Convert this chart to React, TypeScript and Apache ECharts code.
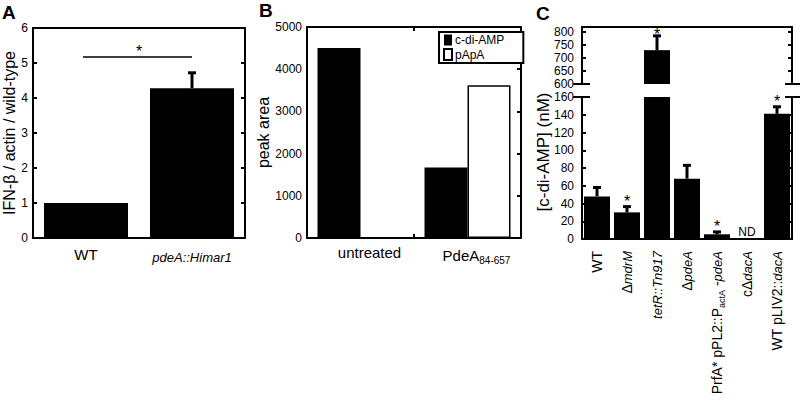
import React, { useEffect, useRef } from "react";
import * as echarts from "echarts";

// ---------- Panel A ----------
const aCategories = ["WT", "pdeA::Himar1"];
const aLabels = ["WT", "{i|pdeA::Himar1}"];
const aValues = [1.0, 4.28];
const aErrorTops = [null, 4.72];
const aSigLevel = 5.17;
const aSigMark = "*";
const aTicks = { min: 0, max: 6, interval: 1 };

// ---------- Panel B ----------
const bCategories = ["untreated", "PdeA84-657"];
const bLabels = ["untreated", "{n|PdeA}{s|84-657}"];
const bCdiAMP = [4500, 1670];
const bPApA = [0, 3620];
const bSeriesNames = ["c-di-AMP", "pApA"];
const bTicks = { min: 0, max: 5000, interval: 1000 };

// ---------- Panel C ----------
const cCategories = [
  "WT",
  "ΔmdrM",
  "tetR::Tn917",
  "ΔpdeA",
  "PrfA* pPL2::PactA -pdeA",
  "cΔdacA",
  "WT pLIV2::dacA",
];
const cLabels = [
  "{n|WT}",
  "{n|Δ}{i|mdrM}",
  "{i|tetR::Tn917}",
  "{n|Δ}{i|pdeA}",
  "{n|PrfA* pPL2::P}{s|actA}{n| -}{i|pdeA}",
  "{n|cΔ}{i|dacA}",
  "{n|WT pLIV2::}{i|dacA}",
];
const cValues: (number | null)[] = [48, 30, 730, 68, 5.3, null, 141];
const cErrorTops: (number | null)[] = [58, 36.5, 785, 83, 8, null, 149];
const cMarks = ["", "*", "*", "", "*", "ND", "*"];
const cLowerTicks = { min: 0, max: 160, interval: 20 };
const cUpperTicks = { min: 600, max: 819, interval: 50 };

const FONT = "'Liberation Sans', Arial, Helvetica, sans-serif";
const BLACK = "#000";

const renderError = (_p: any, api: any) => {
  const idx = api.value(0);
  const p0 = api.coord([idx, api.value(1)]);
  const p1 = api.coord([idx, api.value(2)]);
  return {
    type: "group",
    children: [
      { type: "line", shape: { x1: p0[0], y1: p0[1], x2: p1[0], y2: p1[1] }, style: { stroke: BLACK, lineWidth: 3 } },
      { type: "line", shape: { x1: p1[0] - 4, y1: p1[1], x2: p1[0] + 4, y2: p1[1] }, style: { stroke: BLACK, lineWidth: 3 } },
    ],
  };
};

const makeRenderMark = (clampToTop: boolean) => (params: any, api: any) => {
  const idx = api.value(0);
  const mark = cMarks[idx];
  const p = api.coord([idx, api.value(1)]);
  const isND = mark === "ND";
  const top = params.coordSys ? params.coordSys.y : 0;
  let y = isND ? p[1] - 1 : p[1] - 5;
  if (clampToTop && !isND) y = Math.max(y, top + 7);
  return {
    type: "text",
    x: p[0],
    y,
    style: {
      text: mark,
      fontSize: isND ? 12 : 16,
      fontFamily: FONT,
      fill: BLACK,
      align: "center",
      verticalAlign: isND ? "bottom" : "middle",
    },
  };
};

const renderSig = (_p: any, api: any) => {
  const a = api.coord([api.value(0), api.value(2)]);
  const b = api.coord([api.value(1), api.value(2)]);
  return {
    type: "group",
    children: [
      { type: "line", shape: { x1: a[0] - 3, y1: a[1], x2: b[0], y2: b[1] }, style: { stroke: BLACK, lineWidth: 1.5 } },
      {
        type: "text",
        x: (a[0] + b[0]) / 2,
        y: a[1] - 6,
        style: { text: aSigMark, fontSize: 16, fontFamily: FONT, fill: BLACK, align: "center", verticalAlign: "middle" },
      },
    ],
  };
};

const frameLine = { show: true, onZero: false, lineStyle: { color: BLACK, width: 2 } };
const inTick = { show: true, inside: true, length: 4, lineStyle: { color: BLACK, width: 2 } };
const tickLabel = (margin: number) => ({
  color: BLACK,
  fontSize: 12,
  fontFamily: FONT,
  margin,
  formatter: (v: number) => String(v),
});

export default function App() {
  const ref = useRef<HTMLDivElement>(null);

  useEffect(() => {
    if (!ref.current) return;
    const chart = echarts.init(ref.current, undefined, { renderer: "svg" });

    const errA = aErrorTops
      .map((e, i) => (e == null ? null : [i, aValues[i], e]))
      .filter((d) => d) as number[][];

    const cTop = (i: number) => cErrorTops[i] ?? cValues[i] ?? 0;
    const errCUpper: number[][] = [];
    const errCLower: number[][] = [];
    cErrorTops.forEach((e, i) => {
      if (e == null || cValues[i] == null) return;
      (e > cLowerTicks.max ? errCUpper : errCLower).push([i, cValues[i] as number, e]);
    });
    const markUpper: number[][] = [];
    const markLower: number[][] = [];
    cMarks.forEach((m, i) => {
      if (!m) return;
      (cTop(i) > cLowerTicks.max ? markUpper : markLower).push([i, cTop(i)]);
    });

    const richC = {
      n: { fontSize: 14, fontFamily: FONT, color: BLACK, lineHeight: 18 },
      i: { fontSize: 13, fontFamily: FONT, color: BLACK, fontStyle: "italic", lineHeight: 18 },
      s: { fontSize: 9, fontFamily: FONT, color: BLACK, lineHeight: 9, verticalAlign: "bottom" },
    };
    const richAB = {
      n: { fontSize: 15, fontFamily: FONT, color: BLACK, lineHeight: 20 },
      i: { fontSize: 13, fontFamily: FONT, color: BLACK, fontStyle: "italic", lineHeight: 20 },
      s: { fontSize: 10, fontFamily: FONT, color: BLACK, lineHeight: 10, verticalAlign: "bottom" },
    };

    chart.setOption({
      animation: false,
      backgroundColor: "#fff",
      textStyle: { fontFamily: FONT },
      grid: [
        { left: 33, top: 28, width: 212, height: 210 },
        { left: 307, top: 27, width: 214, height: 211 },
        { left: 582, top: 27, width: 210, height: 57 },
        { left: 582, top: 97, width: 210, height: 142 },
      ],
      legend: {
        data: bSeriesNames,
        orient: "vertical",
        left: 439,
        top: 32,
        itemWidth: 8,
        itemHeight: 11,
        itemGap: 2,
        padding: [2, 19, 2, 4],
        borderColor: BLACK,
        borderWidth: 2,
        backgroundColor: "#fff",
        icon: "rect",
        textStyle: { color: BLACK, fontSize: 12, fontFamily: FONT, padding: [0, 0, 0, -2] },
      },
      xAxis: [
        {
          type: "category", gridIndex: 0, data: aCategories, position: "bottom",
          axisLine: frameLine, axisTick: { show: false },
          axisLabel: { interval: 0, margin: 9, formatter: (_v: string, i: number) => aLabels[i], rich: richAB, fontSize: 15, fontFamily: FONT, color: BLACK },
        },
        { type: "category", gridIndex: 0, data: aCategories, position: "top", axisLine: frameLine, axisTick: { show: false }, axisLabel: { show: false } },
        {
          type: "category", gridIndex: 1, data: bCategories, position: "bottom",
          axisLine: frameLine, axisTick: inTick,
          axisLabel: { interval: 0, margin: 7, padding: [0, 0, 0, 18], formatter: (_v: string, i: number) => bLabels[i], rich: richAB, fontSize: 15, fontFamily: FONT, color: BLACK },
        },
        { type: "category", gridIndex: 1, data: bCategories, position: "top", axisLine: frameLine, axisTick: inTick, axisLabel: { show: false } },
        { type: "category", gridIndex: 2, data: cCategories, position: "top", axisLine: frameLine, axisTick: { show: false }, axisLabel: { show: false } },
        {
          type: "category", gridIndex: 3, data: cCategories, position: "bottom",
          axisLine: frameLine, axisTick: { show: false },
          axisLabel: { interval: 0, rotate: 90, margin: 12, formatter: (_v: string, i: number) => cLabels[i], rich: richC, fontSize: 14, fontFamily: FONT, color: BLACK },
        },
      ],
      yAxis: [
        {
          type: "value", gridIndex: 0, position: "left", ...aTicks,
          axisLine: frameLine, axisTick: inTick, splitLine: { show: false }, axisLabel: tickLabel(5),
          name: "IFN-β / actin / wild-type", nameLocation: "middle", nameGap: 16,
          nameTextStyle: { fontSize: 16, color: BLACK, fontFamily: FONT },
        },
        { type: "value", gridIndex: 0, position: "right", ...aTicks, axisLine: frameLine, axisTick: inTick, splitLine: { show: false }, axisLabel: { show: false } },
        {
          type: "value", gridIndex: 1, position: "left", ...bTicks,
          axisLine: frameLine, axisTick: { show: false }, splitLine: { show: false }, axisLabel: tickLabel(5),
          name: "peak area", nameLocation: "middle", nameGap: 33,
          nameTextStyle: { fontSize: 16, color: BLACK, fontFamily: FONT },
        },
        { type: "value", gridIndex: 1, position: "right", ...bTicks, axisLine: frameLine, axisTick: inTick, splitLine: { show: false }, axisLabel: { show: false } },
        {
          type: "value", gridIndex: 2, position: "left", ...cUpperTicks,
          axisLine: frameLine, axisTick: inTick, splitLine: { show: false }, axisLabel: { ...tickLabel(8), showMaxLabel: false },
        },
        { type: "value", gridIndex: 2, position: "right", ...cUpperTicks, axisLine: frameLine, axisTick: inTick, splitLine: { show: false }, axisLabel: { show: false } },
        {
          type: "value", gridIndex: 3, position: "left", ...cLowerTicks,
          axisLine: frameLine, axisTick: inTick, splitLine: { show: false }, axisLabel: tickLabel(8),
        },
        { type: "value", gridIndex: 3, position: "right", ...cLowerTicks, axisLine: frameLine, axisTick: inTick, splitLine: { show: false }, axisLabel: { show: false } },
      ],
      series: [
        { type: "bar", xAxisIndex: 0, yAxisIndex: 0, data: aValues, barWidth: 84, itemStyle: { color: BLACK } },
        { type: "custom", xAxisIndex: 0, yAxisIndex: 0, data: errA, renderItem: renderError, encode: { x: 0, y: [1, 2] }, z: 5 },
        { type: "custom", xAxisIndex: 0, yAxisIndex: 0, data: [[0, 1, aSigLevel]], renderItem: renderSig, encode: { x: [0, 1], y: 2 }, clip: false, z: 5 },

        { type: "bar", name: bSeriesNames[0], xAxisIndex: 2, yAxisIndex: 2, data: bCdiAMP, barWidth: 43, barGap: "0%", itemStyle: { color: BLACK } },
        { type: "bar", name: bSeriesNames[1], xAxisIndex: 2, yAxisIndex: 2, data: bPApA, barWidth: 43, barGap: "0%", itemStyle: { color: "#fff", borderColor: BLACK, borderWidth: 1.5 } },

        { type: "bar", xAxisIndex: 4, yAxisIndex: 4, data: cValues.map((v) => (v != null && v > cLowerTicks.max ? v : "-")), barWidth: 26, itemStyle: { color: BLACK } },
        { type: "custom", xAxisIndex: 4, yAxisIndex: 4, data: errCUpper, renderItem: renderError, encode: { x: 0, y: [1, 2] }, z: 5 },
        { type: "custom", xAxisIndex: 4, yAxisIndex: 4, data: markUpper, renderItem: makeRenderMark(true), encode: { x: 0, y: 1 }, clip: false, z: 20 },

        { type: "bar", xAxisIndex: 5, yAxisIndex: 6, data: cValues.map((v) => (v == null ? "-" : v)), barWidth: 26, itemStyle: { color: BLACK } },
        { type: "custom", xAxisIndex: 5, yAxisIndex: 6, data: errCLower, renderItem: renderError, encode: { x: 0, y: [1, 2] }, z: 5 },
        { type: "custom", xAxisIndex: 5, yAxisIndex: 6, data: markLower, renderItem: makeRenderMark(false), encode: { x: 0, y: 1 }, clip: false, z: 20 },
      ],
      graphic: [
        { type: "text", x: 2, y: 3, style: { text: "A", font: `bold 19px ${FONT}`, fill: BLACK } },
        { type: "text", x: 259, y: 1, style: { text: "B", font: `bold 19px ${FONT}`, fill: BLACK } },
        { type: "text", x: 536, y: 4, style: { text: "C", font: `bold 19px ${FONT}`, fill: BLACK } },
        {
          type: "text", x: 543, y: 152, rotation: Math.PI / 2,
          style: { text: "[c-di-AMP] (nM)", fontSize: 17, fontFamily: FONT, fill: BLACK, align: "center", verticalAlign: "middle" },
        },
        { type: "rect", x: 441, y: 34, z: 3, shape: { width: 82, height: 29 }, style: { fill: BLACK } },
        { type: "line", shape: { x1: 573, y1: 84, x2: 590, y2: 84 }, style: { stroke: BLACK, lineWidth: 2 } },
        { type: "line", shape: { x1: 573, y1: 97, x2: 590, y2: 97 }, style: { stroke: BLACK, lineWidth: 2 } },
        { type: "line", shape: { x1: 785, y1: 84, x2: 800, y2: 84 }, style: { stroke: BLACK, lineWidth: 2 } },
        { type: "line", shape: { x1: 785, y1: 97, x2: 800, y2: 97 }, style: { stroke: BLACK, lineWidth: 2 } },
      ],
    });

    return () => chart.dispose();
  }, []);

  return (
    <div
      ref={ref}
      style={{ position: "fixed", left: 0, top: 0, width: 800, height: 404, background: "#fff" }}
    />
  );
}
